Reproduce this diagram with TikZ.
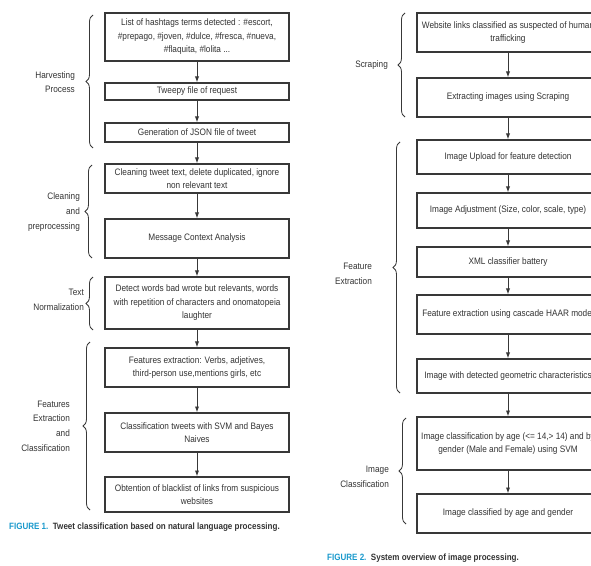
\documentclass[tikz,border=0pt]{standalone}
\usepackage{fontspec}
\setmainfont{Liberation Sans}[FakeStretch=0.88]
\usepackage{tikz}
\usetikzlibrary{arrows.meta,decorations.pathreplacing}
\usepackage{xcolor}
\definecolor{linegray}{rgb}{0.22,0.22,0.22}
\definecolor{textgray}{rgb}{0.2,0.2,0.2}
\definecolor{figblue}{rgb}{0.1,0.6,0.8}

\tikzset{
    stage/.style={rectangle,
        draw=linegray,
        line width=1.1pt,
        fill=white,
        align=center,
        inner sep=1pt,
        text=textgray,
        font=\fontsize{8}{11.5}\selectfont},
    leftstage/.style={stage, minimum width=5.52cm},
    rightstage/.style={stage, minimum width=5.46cm},
    flow/.style={draw=linegray, line width=0.8pt, -{Latex[length=5pt,width=3.6pt]}},
    group/.style={draw=linegray, line width=0.7pt, decorate,
        decoration={brace, amplitude=6pt}},
    grouplabel/.style={anchor=east, align=right, text=textgray,
        font=\fontsize{8}{12.5}\selectfont},
    figcaption/.style={anchor=west, text=textgray,
        font=\fontsize{7.8}{9}\selectfont\bfseries}
}

\begin{document}
\begin{tikzpicture}[x=0.03cm, y=-0.03cm]
    \useasboundingbox (0,0) rectangle (591,566);
    \clip (0,0) rectangle (591,566);

    % Tweet classification (left)
    \node [leftstage, minimum height=1.44cm] (tags) at (197,37)
        {List of hashtags terms detected : \#escort,\\
         \#prepago, \#joven, \#dulce, \#fresca, \#nueva,\\
         \#flaquita, \#lolita ...};
    \node [leftstage, minimum height=0.51cm] (tweepy) at (197,91.5)
        {Tweepy file of request};
    \node [leftstage, minimum height=0.57cm] (json) at (197,132.5)
        {Generation of JSON file of tweet};
    \node [leftstage, minimum height=0.87cm] (clean) at (197,178.5)
        {Cleaning tweet text, delete duplicated, ignore\\ non relevant text};
    \node [leftstage, minimum height=1.17cm] (context) at (197,238.5)
        {Message Context Analysis};
    \node [leftstage, minimum height=1.56cm] (detect) at (197,303)
        {Detect words bad wrote but relevants, words\\
         with repetition of characters and onomatopeia\\ laughter};
    \node [leftstage, minimum height=1.17cm] (features) at (197,367.5)
        {Features extraction: Verbs, adjetives,\\
         third-person use,mentions girls, etc};
    \node [leftstage, minimum height=1.17cm] (svm) at (197,432.5)
        {Classification tweets with SVM and Bayes\\ Naives};
    \node [leftstage, minimum height=1.05cm] (blacklist) at (197,494.5)
        {Obtention of blacklist of links from suspicious\\ websites};

    \draw[flow] (tags) -- (tweepy);
    \draw[flow] (tweepy) -- (json);
    \draw[flow] (json) -- (clean);
    \draw[flow] (clean) -- (context);
    \draw[flow] (context) -- (detect);
    \draw[flow] (detect) -- (features);
    \draw[flow] (features) -- (svm);
    \draw[flow] (svm) -- (blacklist);

    % Left groups
    \draw[group] (93,148) -- (93,15);
    \node [grouplabel] (harvest) at (79,82) {Harvesting\\ Process};
    \draw[group] (92,258) -- (92,165);
    \node [grouplabel] (cleaning) at (84,212) {Cleaning\\ and\\ preprocessing};
    \draw[group] (93,330) -- (93,277);
    \node [grouplabel] (normal) at (88,300) {Text\\ Normalization};
    \draw[group] (90,510) -- (90,342);
    \node [grouplabel] (featgroup) at (74,426)
        {Features\\ Extraction\\ and\\ Classification};

    \node [figcaption] (caption1) at (5,527)
        {{\color{figblue}FIGURE 1.}\ \ Tweet classification based on natural language processing.};

    % Image processing (right)
    \node [rightstage, minimum height=1.17cm] (links) at (508,32.5)
        {Website links classified as suspected of human\\ trafficking};
    \node [rightstage, minimum height=1.17cm] (scrape) at (508,97.5)
        {Extracting images using Scraping};
    \node [rightstage, minimum height=1.02cm] (upload) at (508,157)
        {Image Upload for feature detection};
    \node [rightstage, minimum height=1.05cm] (adjust) at (508,210.5)
        {Image Adjustment (Size, color, scale, type)};
    \node [rightstage, minimum height=0.9cm] (xml) at (508,262)
        {XML classifier battery};
    \node [rightstage, minimum height=1.17cm] (haar) at (508,314.5)
        {Feature extraction using cascade HAAR model};
    \node [rightstage, minimum height=1.02cm] (geometric) at (508,376)
        {Image with detected geometric characteristics};
    \node [rightstage, minimum height=1.59cm] (agesvm) at (508,443.5)
        {Image classification by age (<= 14,> 14) and by\\
         gender (Male and Female) using SVM};
    \node [rightstage, minimum height=1.17cm] (classified) at (508,513.5)
        {Image classified by age and gender};

    \draw[flow] (links) -- (scrape);
    \draw[flow] (scrape) -- (upload);
    \draw[flow] (upload) -- (adjust);
    \draw[flow] (adjust) -- (xml);
    \draw[flow] (xml) -- (haar);
    \draw[flow] (haar) -- (geometric);
    \draw[flow] (geometric) -- (agesvm);
    \draw[flow] (agesvm) -- (classified);

    % Right groups
    \draw[group] (405,117) -- (405,13);
    \node [grouplabel] (scraping) at (392,65) {Scraping};
    \draw[group] (400,393) -- (400,142);
    \node [grouplabel] (extraction) at (376,274) {Feature\\ Extraction};
    \draw[group] (406,524) -- (406,418);
    \node [grouplabel] (imgclass) at (393,477) {Image\\ Classification};

    \node [figcaption] (caption2) at (323,558)
        {{\color{figblue}FIGURE 2.}\ \ System overview of image processing.};
\end{tikzpicture}
\end{document}
